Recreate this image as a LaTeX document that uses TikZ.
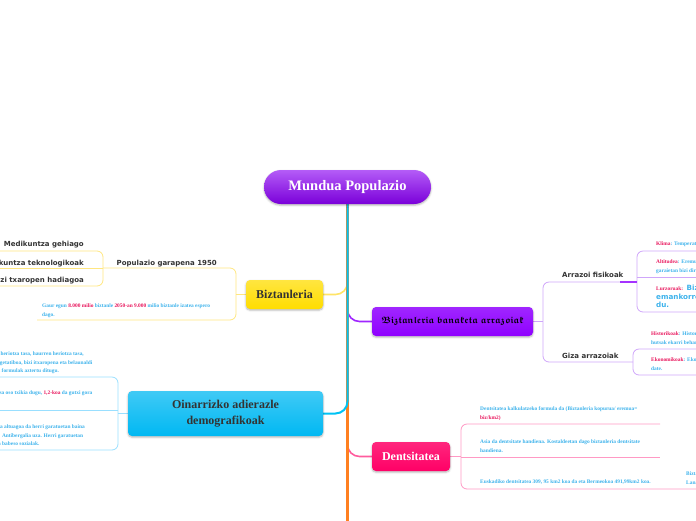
\documentclass[tikz,border=0pt]{standalone}
\usepackage{amsfonts}
\usepackage{fontspec}
\setmainfont{Liberation Serif}
\newfontfamily\topicfont{DejaVu Sans}
\usetikzlibrary{shadows.blur}
\usetikzlibrary{backgrounds}
\definecolor{rootTop}{HTML}{B45CF7}
\definecolor{rootBot}{HTML}{7A00D9}
\definecolor{myellow}{HTML}{FFDD00}
\definecolor{mpurple}{HTML}{8F00FF}
\definecolor{mblue}{HTML}{00B8F2}
\definecolor{mpink}{HTML}{FF0066}
\definecolor{morange}{HTML}{FF8020}
\definecolor{ylwline}{HTML}{FFE680}
\definecolor{purline}{HTML}{CFA6FA}
\definecolor{bluline}{HTML}{99DFFF}
\definecolor{pnkline}{HTML}{FF99C4}
\definecolor{txtblue}{HTML}{3DB2EB}
\definecolor{txtpink}{HTML}{E8175D}
\definecolor{txtdark}{HTML}{333333}
\newcommand{\pinkw}[1]{\textcolor{txtpink}{#1}}
\newsavebox{\gothbox}

\begin{document}
\sbox{\gothbox}{\fontsize{9.3}{11}\selectfont\mathversion{bold}$\mathfrak{Biztanleria}\;\mathfrak{banaketa}\;\mathfrak{arrazoiak}$}
\begin{tikzpicture}[x=1pt,y=-1pt,line cap=round,
  rootbox/.style={rounded corners=17pt, minimum width=167pt, minimum height=34pt, inner sep=0pt,
    top color=rootTop, bottom color=rootBot, text=white, font=\bfseries\fontsize{14.5}{16}\selectfont,
    blur shadow={shadow xshift=0pt,shadow yshift=-1.2pt,shadow blur steps=4,shadow opacity=30}},
  topic/.style={rounded corners=4pt, minimum height=29pt, inner sep=0pt, align=center,
    font=\bfseries\fontsize{12}{16}\selectfont,
    blur shadow={shadow xshift=0pt,shadow yshift=-1.2pt,shadow blur steps=4,shadow opacity=30}},
  lbl/.style={inner sep=0pt, text=txtdark, font=\topicfont\bfseries\fontsize{7}{8.5}\selectfont},
  note/.style={inner sep=0pt, text=txtblue, align=left, anchor=north west, font=\bfseries\fontsize{5.4}{8.7}\selectfont},
  branch/.style={line width=1.6pt, rounded corners=12pt},
  twig/.style={line width=.8pt, rounded corners=6pt}]
\useasboundingbox (0,0) rectangle (696,520);

% Central topic
\node[rootbox] (root) at (347.5,187) {Mundua Populazio};

% Main topics
\node[topic, minimum width=161pt, top color=mpurple!85!white, bottom color=mpurple, text=white] (banak) at (452.5,321.5) {\usebox{\gothbox}};
\node[topic, minimum width=77pt, top color=myellow!75!white, bottom color=myellow, text=txtdark] (bizt) at (284.5,294.5) {Biztanleria};
\node[topic, minimum width=195pt, minimum height=45pt, top color=mblue!75!white, bottom color=mblue, text=txtdark] (oinar) at (225.5,413.5) {Oinarrizko adierazle\\demografikoak};
\node[topic, minimum width=78pt, top color=mpink!85!white, bottom color=mpink, text=white] (dents) at (411,456.5) {Dentsitatea};
\coordinate (below) at (347.5,530);

% Biztanleria
\node[lbl, anchor=base east] (pop) at (217,265) {Populazio garapena 1950};
\node[lbl, anchor=base east] (medik) at (84,246) {Medikuntza gehiago};
\node[lbl, anchor=base east] (tekno) at (84,265) {Aurrerakuntza teknologikoak};
\node[lbl, anchor=base east] (bizi) at (84,282) {Bizi txaropen hadiagoa};
\node[note] (gaur) at (42,303.5) {Gaur egun \pinkw{8.000 milio} biztanle \pinkw{2050-an 9.000} milio biztanle izatea espero\\dago.};

% Oinarrizko adierazleak
\node[note] (tasak) at (-29.5,351.5) {Jaiotza tasa, heriotza tasa, haurren heriotza tasa,\\hazkunde begetatiboa, bizi itxaropena eta belaunaldi\\ordezkapena formulak aztertu ditugu.};
\node[note] (hazk) at (-30.2,390.5) {Hazkunde tasa oso txikia dugu, \pinkw{1,2-koa} da gutxi gora};
\node[note] (itxar) at (-32.5,424.5) {Bizi itxaropena altuagoa da herri garatuetan baina\\herrialdeetan. Antibergalia uza. Herri garatuetan\\Laguntzak eta babeso sozialak.};

% Banaketa arrazoiak
\node[lbl, anchor=base west] (fisik) at (562,277) {Arrazoi fisikoak};
\node[lbl, anchor=base west] (giza) at (562,358.5) {Giza arrazoiak};
\node[note] (klima) at (656,241.5) {\pinkw{Klima}: Temperatura};
\node[note] (altit) at (656,259.5) {\pinkw{Altitudea}: Eremu\\garaietan bizi dira};
\node[note, font=\topicfont\bfseries\fontsize{7.2}{8.5}\selectfont] (lurz) at (656,285) {{\rmfamily\fontsize{5.4}{8.5}\selectfont\pinkw{Lurzoruak:}} Biztanleriak lur\\emankorretan bizitzea\\du.};
\node[note] (histo) at (651,331.5) {\pinkw{Historikoak}: Historian\\hutsak ekarri behar};
\node[note] (ekono) at (651,357.5) {\pinkw{Ekonomikoak}: Ekonomia\\date.};

% Dentsitatea
\node[note] (formula) at (480,406.5) {Dentsitatea kalkulatzeko formula da (Biztanleria kopurua/ eremua=\\\pinkw{biz/km2)}};
\node[note] (asia) at (480,439.5) {Asia da dentsitate handiena. Kostaldeetan dago biztanleria dentsitate\\handiena.};
\node[note] (euskadi) at (480,479.5) {Euskadiko dentsitatea 309, 95 km2 koa da eta Bermeokoa 491,99km2 koa.};
\node[note] (lan) at (686,471.5) {Biztanleria\\Lana};

\begin{scope}[on background layer]
% main branches
\draw[branch, ylwline!80!myellow] (root.south) |- (bizt.east);
\draw[branch, mpurple!85!white] (root.south) |- (banak.west);
\draw[branch, pnkline!60!mpink] (root.south) |- (dents.west);
\draw[line width=2.2pt, morange] (root.south) -- (below);
\draw[branch, line width=2pt, mblue!85!cyan] (root.south) |- (oinar.east);

% yellow
\draw[twig, ylwline] (bizt.west) -- (236,294.5);
\draw[twig, ylwline] (103,268) -| (236,320) -- (37,320);
\draw[twig, ylwline] (-5,251) -| (103,286) -- (-5,286);
\draw[twig, ylwline] (-5,268) -- (103,268);

% blue
\draw[twig, bluline] (oinar.west) -- (118,413.5);
\draw[twig, bluline] (-5,377) -| (118,450) -- (-5,450);
\draw[twig, bluline] (-5,410) -- (118,410);

% purple
\draw[twig, purline] (banak.east) -- (543,321.5);
\draw[twig, purline] (637,282) -| (543,362) -- (633,362);
\draw[twig, purline] (700,251) -| (637,312) -- (700,312);
\draw[twig, purline] (637,277) -- (700,277);
\draw[twig, purline] (700,349) -| (633,375) -- (700,375);
\draw[line width=1.4pt, mpurple!80!white] (620,282) -- (637,282);

% pink
\draw[twig, pnkline] (dents.east) -- (461,456.5);
\draw[twig, pnkline] (660,424) -| (461,489) -- (700,489);
\draw[twig, pnkline] (461,457) -- (660,457);
\end{scope}
\end{tikzpicture}
\end{document}
